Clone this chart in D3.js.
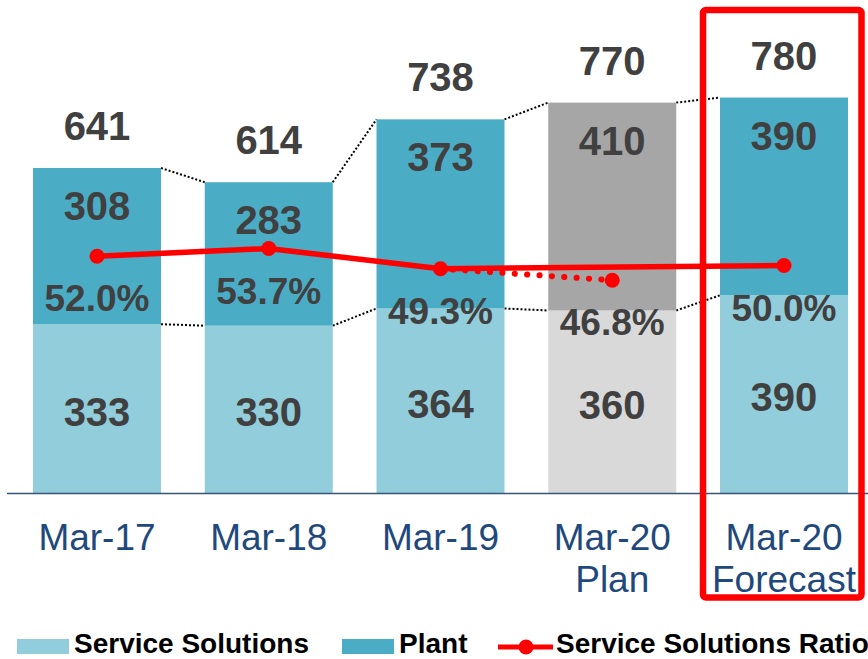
<!DOCTYPE html>
<html>
<head>
<meta charset="utf-8">
<script src="https://cdn.jsdelivr.net/npm/d3@7"></script>
<style>
  body { margin: 0; background: #fff; }
  text { font-family: "Liberation Sans", Arial, sans-serif; }
</style>
</head>
<body>
<div id="chart"></div>
<script>
// Chart data
var periods = ["Mar-17", "Mar-18", "Mar-19", "Mar-20 Plan", "Mar-20 Forecast"];
var period_lines = [["Mar-17"], ["Mar-18"], ["Mar-19"], ["Mar-20", "Plan"], ["Mar-20", "Forecast"]];
var service_solutions = [333, 330, 364, 360, 390];
var plant = [308, 283, 373, 410, 390];
var totals = [641, 614, 738, 770, 780];
var ratio = [52.0, 53.7, 49.3, 46.8, 50.0];
var is_plan = [false, false, false, true, false];

var svg_width = 868;
var svg_height = 659;

var svg = d3.select("#chart")
    .append("svg")
    .attr("width", svg_width)
    .attr("height", svg_height)

var base_y = 493;

// Scales
var x_scale = d3.scaleBand()
    .domain(periods)
    .range([33, 848])
    .paddingInner(0.2547)
    .paddingOuter(0)

var y_scale = d3.scaleLinear()
    .domain([0, 1000])
    .range([base_y, base_y - 507])

var ratio_scale = d3.scaleLinear()
    .domain([0, 100])
    .range([495, 36])

var colors = {
    ss: "#92CDDC", plant: "#4BACC6",
    ss_plan: "#D9D9D9", plant_plan: "#A6A6A6",
    text: "#404040", axis: "#1F497D", red: "#FF0000"
}

var rows = periods.map((p, i) => ({
    period: p, ss: service_solutions[i], plant: plant[i], total: totals[i],
    ratio: ratio[i], plan: is_plan[i], lines: period_lines[i]
}))

var bw = x_scale.bandwidth()

// Dotted connectors between bars
var connectors = svg.append("g")
for (var i = 0; i < rows.length - 1; i++) {
    var a = rows[i], b = rows[i + 1]
    var x1 = x_scale(a.period) + bw, x2 = x_scale(b.period)
    ;[[a.ss + a.plant, b.ss + b.plant], [a.ss, b.ss]].forEach(function(pair) {
        connectors.append("line")
            .attr("x1", x1).attr("y1", y_scale(pair[0]))
            .attr("x2", x2).attr("y2", y_scale(pair[1]))
            .attr("stroke", "#000")
            .attr("stroke-width", 2)
            .attr("stroke-dasharray", "2 2")
    })
}

// Stacked bars
var bars = svg.append("g")
bars.selectAll(".ss")
    .data(rows).enter().append("rect")
    .attr("x", d => x_scale(d.period))
    .attr("y", d => y_scale(d.ss))
    .attr("width", bw)
    .attr("height", d => base_y - y_scale(d.ss))
    .attr("fill", d => d.plan ? colors.ss_plan : colors.ss)

bars.selectAll(".plant")
    .data(rows).enter().append("rect")
    .attr("x", d => x_scale(d.period))
    .attr("y", d => y_scale(d.ss + d.plant))
    .attr("width", bw)
    .attr("height", d => y_scale(d.ss) - y_scale(d.ss + d.plant))
    .attr("fill", d => d.plan ? colors.plant_plan : colors.plant)

// Axis line
svg.append("line")
    .attr("x1", 7).attr("x2", svg_width)
    .attr("y1", base_y + 0.5).attr("y2", base_y + 0.5)
    .attr("stroke", "#3A5478")
    .attr("stroke-width", 1.5)

// Value labels
var labels = svg.append("g")
    .attr("fill", colors.text)
    .attr("font-weight", "bold")
    .attr("text-anchor", "middle")

var cx = d => x_scale(d.period) + bw / 2

labels.selectAll(".total")
    .data(rows).enter().append("text")
    .attr("x", cx)
    .attr("y", d => y_scale(d.total) - 28)
    .attr("font-size", 40)
    .text(d => d.total)

labels.selectAll(".plantv")
    .data(rows).enter().append("text")
    .attr("x", cx)
    .attr("y", d => y_scale(d.ss + d.plant) + 52)
    .attr("font-size", 40)
    .text(d => d.plant)

labels.selectAll(".ssv")
    .data(rows).enter().append("text")
    .attr("x", cx)
    .attr("y", d => (y_scale(d.ss) + base_y) / 2 + 17)
    .attr("font-size", 40)
    .text(d => d.ss)

labels.selectAll(".pct")
    .data(rows).enter().append("text")
    .attr("x", cx)
    .attr("y", d => ratio_scale(d.ratio) + 55)
    .attr("font-size", 37)
    .text(d => d.ratio.toFixed(1) + "%")

// Ratio line: solid through actuals and forecast, dotted to plan
var actual = rows.filter(d => !d.plan)
var line = d3.line()
    .x(cx)
    .y(d => ratio_scale(d.ratio))

svg.append("path")
    .datum([rows[2], rows[3]])
    .attr("d", line)
    .attr("fill", "none")
    .attr("stroke", colors.red)
    .attr("stroke-width", 6)
    .attr("stroke-linecap", "round")
    .attr("stroke-dasharray", "0.1 12.3")

svg.append("path")
    .datum(actual)
    .attr("d", line)
    .attr("fill", "none")
    .attr("stroke", colors.red)
    .attr("stroke-width", 5.5)

svg.selectAll(".marker")
    .data(rows).enter().append("circle")
    .attr("cx", cx)
    .attr("cy", d => ratio_scale(d.ratio))
    .attr("r", 7.5)
    .attr("fill", colors.red)

// Category labels
var cat = svg.append("g")
    .attr("fill", colors.axis)
    .attr("font-size", 37)
    .attr("text-anchor", "middle")

rows.forEach(function(d) {
    d.lines.forEach(function(t, j) {
        cat.append("text")
            .attr("x", cx(d))
            .attr("y", 550 + j * 42)
            .text(t)
    })
})

// Forecast highlight box
svg.append("rect")
    .attr("x", 703).attr("y", 10)
    .attr("width", 158.5).attr("height", 587.5)
    .attr("rx", 3)
    .attr("fill", "none")
    .attr("stroke", colors.red)
    .attr("stroke-width", 6.5)

// Legend
var legend = svg.append("g")
    .attr("font-size", 28)
    .attr("font-weight", "bold")
    .attr("fill", "#000")

legend.append("rect").attr("x", 17).attr("y", 639).attr("width", 52).attr("height", 15).attr("fill", colors.ss)
legend.append("text").attr("x", 74).attr("y", 653).text("Service Solutions")

legend.append("rect").attr("x", 342).attr("y", 639).attr("width", 52).attr("height", 15).attr("fill", colors.plant)
legend.append("text").attr("x", 399).attr("y", 653).text("Plant")

legend.append("line").attr("x1", 498).attr("x2", 553).attr("y1", 647).attr("y2", 647)
    .attr("stroke", colors.red).attr("stroke-width", 5)
legend.append("circle").attr("cx", 526).attr("cy", 647).attr("r", 7.5).attr("fill", colors.red)
legend.append("text").attr("x", 556).attr("y", 653).text("Service Solutions Ratio")
</script>
</body>
</html>
